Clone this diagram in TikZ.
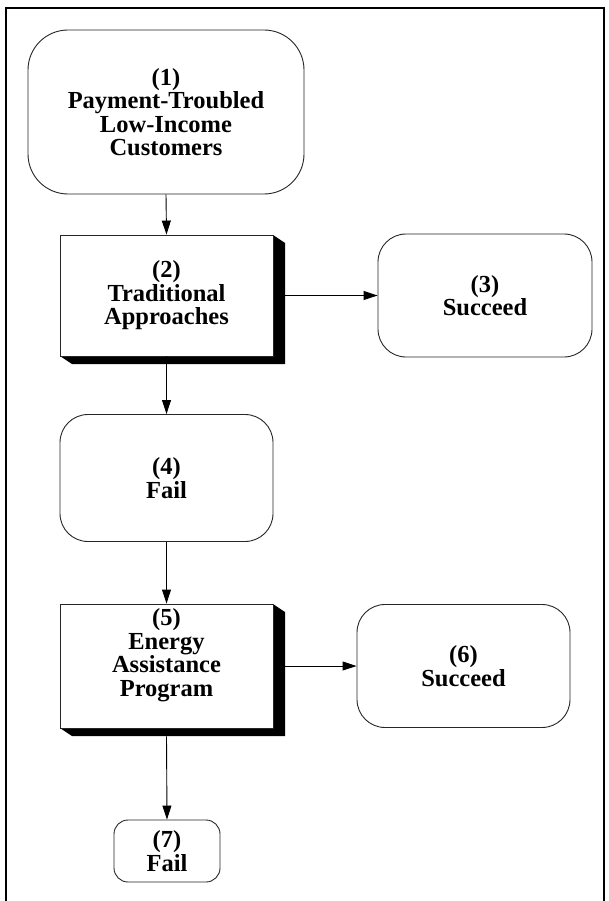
\documentclass[tikz,border=0pt]{standalone}
\usepackage{fontspec}
\setmainfont{Liberation Serif}
\usetikzlibrary{arrows.meta,calc}
\begin{document}
\begin{tikzpicture}[x=1pt,y=-1pt,
  lbl/.style={font=\bfseries\fontsize{24.5}{23.5}\selectfont, align=center, inner sep=0pt},
  rbox/.style={draw=black!85, line width=0.9pt, fill=white, rounded corners=#1, inner sep=0pt},
  sbox/.style={draw=black!85, line width=0.9pt, fill=white, inner sep=0pt},
  flow/.style={line width=0.9pt, -{Triangle[length=14pt,width=9pt]}}
]
\useasboundingbox (0,0) rectangle (608,901);
\fill[white] (0,0) rectangle (608,901);
% outer frame
\draw[line width=2pt] (6,910) -- (6,8) -- (604,8) -- (604,910);

% bevelled shadow behind the rectangular boxes
\newcommand{\boxshadow}[4]{%
  \fill[black] (#3,#2) -- (#3+12,#2+8) -- (#3+12,#4+8) -- (#1+12,#4+8) -- (#1,#4) -- cycle;}

% (1)
\node[rbox=40pt, minimum width=276pt, minimum height=164pt, lbl] (n1) at (166,112)
  {(1)\\Payment-Troubled\\Low-Income\\Customers};
% (2)
\boxshadow{60}{235}{273}{356}
\node[sbox, minimum width=213pt, minimum height=121pt, lbl] (n2) at (166.5,295.5)
  {(2)\\Traditional\\Approaches};
% (3)
\node[rbox=28pt, minimum width=214pt, minimum height=123pt, lbl] (n3) at (485,295.5)
  {(3)\\Succeed};
% (4)
\node[rbox=28pt, minimum width=213pt, minimum height=127pt, lbl] (n4) at (166.5,478)
  {(4)\\Fail};
% (5)
\boxshadow{60}{604}{273}{728}
\node[sbox, minimum width=213pt, minimum height=124pt] (n5) at (166.5,666) {};
\node[lbl] (n5t) at (166.5,655) {(5)\\Energy\\Assistance\\Program};
% (6)
\node[rbox=28pt, minimum width=213pt, minimum height=123pt, lbl] (n6) at (463.5,666)
  {(6)\\Succeed};
% (7)
\node[rbox=14pt, minimum width=106pt, minimum height=62pt, lbl] (n7) at (167,851)
  {(7)\\Fail};

% connectors
\draw[flow] (n1.south) -- (n2.north);
\draw[flow] ($(n2.east)+(12,0)$) -- (n3.west);
\draw[flow] (n2.south) -- (n4.north);
\draw[flow] (n4.south) -- (n5.north);
\draw[flow] ($(n5.east)+(12,0)$) -- (n6.west);
\draw[flow] ($(n5.south)+(0,8)$) -- (n7.north);
\end{tikzpicture}
\end{document}
